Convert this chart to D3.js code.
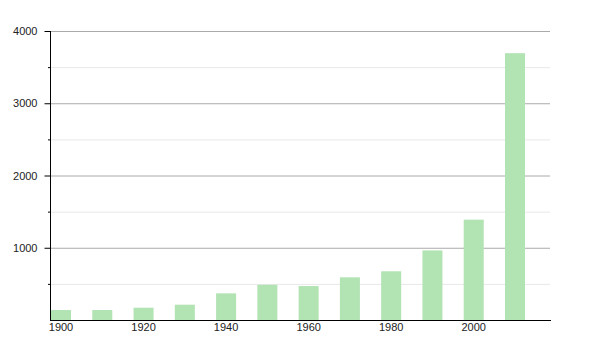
<!DOCTYPE html>
<html>
<head>
<meta charset="utf-8">
<script src="https://cdn.jsdelivr.net/npm/d3@7"></script>
<style>
  body { margin: 0; background: #fff; }
  svg text { font-family: "Liberation Sans", Arial, sans-serif; font-size: 11px; fill: #222; }
</style>
</head>
<body>
<div class="displayArea"></div>
<script>
const width = 600, height = 350;

var years = [1900, 1910, 1920, 1930, 1940, 1950, 1960, 1970, 1980, 1990, 2000, 2010],
    values = [138, 138, 170, 212, 369, 488, 470, 591, 674, 963, 1389, 3693];
var yTicks = [1000, 2000, 3000, 4000],
    yMinor = [500, 1500, 2500, 3500],
    xLabels = [1900, 1920, 1940, 1960, 1980, 2000];

// plot edges (note: "top" clashes with window.top, so plotTop)
var plotLeft = 50, plotRight = 551, plotTop = 31, plotBottom = 320;

var xScale = d3.scaleBand()
    .domain(years)
    .range([51, 525])
    .paddingInner(0.515)
    .paddingOuter(0);

var yScale = d3.scaleLinear()
    .domain([0, 4000])
    .range([plotBottom, plotTop]);

var svg = d3.select(".displayArea")
    .append("svg")
    .attr("width", width)
    .attr("height", height);

// grid lines, minor first
svg.append("g").selectAll("line")
    .data(yMinor)
    .enter().append("line")
    .attr("x1", plotLeft).attr("x2", plotRight - 1)
    .attr("y1", d => yScale(d) + 0.5).attr("y2", d => yScale(d) + 0.5)
    .attr("stroke", "#e8e8e8");

svg.append("g").selectAll("line")
    .data(yTicks)
    .enter().append("line")
    .attr("x1", plotLeft).attr("x2", plotRight - 1)
    .attr("y1", d => yScale(d) + 0.5).attr("y2", d => yScale(d) + 0.5)
    .attr("stroke", "#aaa");

// bars
svg.append("g").selectAll("rect")
    .data(values)
    .enter().append("rect")
    .attr("x", (d, i) => xScale(years[i]))
    .attr("width", xScale.bandwidth())
    .attr("y", d => yScale(d))
    .attr("height", d => plotBottom - yScale(d))
    .attr("fill", "#b2e3b3");

// y axis with major labels
var yAxis = d3.axisLeft(yScale)
    .tickValues(yTicks)
    .tickFormat(d3.format("d"))
    .tickSize(6)
    .tickPadding(7);

var gy = svg.append("g")
    .attr("transform", `translate(${plotLeft + 0.5},0)`)
    .call(yAxis);
gy.select(".domain").remove();
gy.selectAll("text").style("font-size", "11px").attr("fill", "#222").attr("font-family", null);
gy.selectAll(".tick line").attr("stroke", "#000");

// minor ticks
svg.append("g").selectAll("line")
    .data(yMinor)
    .enter().append("line")
    .attr("x1", plotLeft - 2).attr("x2", plotLeft)
    .attr("y1", d => yScale(d) + 0.5).attr("y2", d => yScale(d) + 0.5)
    .attr("stroke", "#000");

// axis lines
svg.append("line")
    .attr("x1", plotLeft + 0.5).attr("x2", plotLeft + 0.5)
    .attr("y1", plotTop).attr("y2", plotBottom + 1)
    .attr("stroke", "#000");

svg.append("line")
    .attr("x1", plotLeft).attr("x2", plotRight)
    .attr("y1", plotBottom + 0.5).attr("y2", plotBottom + 0.5)
    .attr("stroke", "#000");

// x labels under every other bar
svg.append("g").selectAll("text")
    .data(xLabels)
    .enter().append("text")
    .attr("x", d => xScale(d) + xScale.bandwidth() / 2)
    .attr("y", plotBottom + 11)
    .attr("text-anchor", "middle")
    .text(d => d);
</script>
</body>
</html>
